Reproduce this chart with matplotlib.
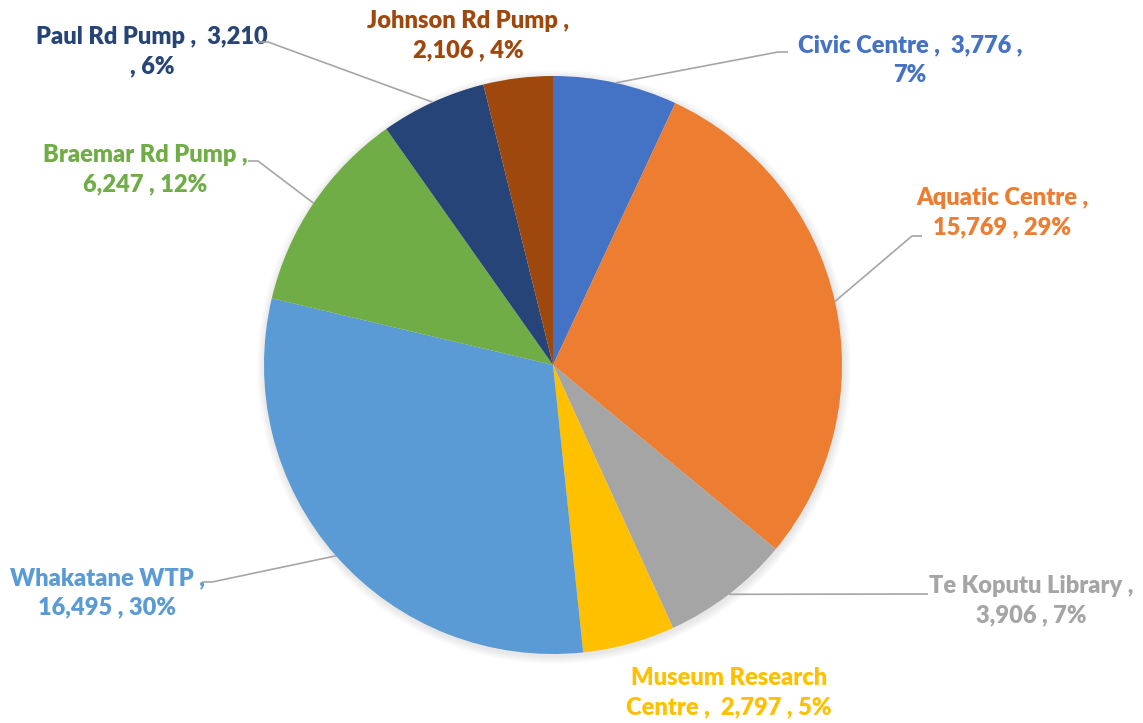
import numpy as np
import matplotlib.pyplot as plt
from matplotlib.patches import Circle

# Site names and energy use, clockwise from 12 o'clock
sites = ["Civic Centre", "Aquatic Centre", "Te Koputu Library",
         "Museum Research Centre", "Whakatane WTP", "Braemar Rd Pump",
         "Paul Rd Pump", "Johnson Rd Pump"]
values = [3776, 15769, 3906, 2797, 16495, 6247, 3210, 2106]
colors = ["#4472C4", "#ED7D31", "#A5A5A5", "#FFC000",
          "#5B9BD5", "#70AD47", "#264478", "#9E480E"]

# how each label wraps (same as the original chart)
label_fmt = ["{n} ,  {v} ,\n{p}%",
             "{n} ,\n{v} , {p}%",
             "{n} ,\n{v} , {p}%",
             "Museum Research\nCentre ,  {v} , {p}%",
             "{n} ,\n{v} , {p}%",
             "{n} ,\n{v} , {p}%",
             "{n} ,  {v}\n, {p}%",
             "{n} ,\n{v} , {p}%"]

W, H = 1143, 723
# label centres and leader-line elbows in pixel coords (y down)
label_pos = [(910, 60), (1002, 213), (1031, 601), (729, 693),
             (107, 593), (145, 170), (152, 52), (468, 36)]
elbows = [(778, 52), (912, 236), (918, 594), None,
          (212, 582), (258, 161), (268, 42), None]

cx, cy, r = 553, H - 365, 289

fig = plt.figure(figsize=(W / 100, H / 100), dpi=100)
ax = fig.add_axes([0, 0, 1, 1])

# soft shadow under the pie
for i in range(8):
    ax.add_patch(Circle((cx + 1, cy - 2), r + 8 - i, color="black",
                        alpha=0.012, lw=0, zorder=0))

wedges, _ = ax.pie(values, colors=colors, startangle=90, counterclock=False,
                   center=(cx, cy), radius=r,
                   wedgeprops=dict(linewidth=0))

total = sum(values)
for i, w in enumerate(wedges):
    pct = int(round(values[i] / total * 100))
    txt = label_fmt[i].format(n=sites[i], v=f"{values[i]:,}", p=pct)
    lx, ly = label_pos[i]
    ax.text(lx, H - ly, txt, color=colors[i], fontsize=17,
            fontweight="heavy", family=["Lato", "DejaVu Sans"],
            ha="center", va="center", linespacing=1.4)
    if elbows[i] is not None:
        mid = np.deg2rad((w.theta1 + w.theta2) / 2)
        sx, sy = cx + r * np.cos(mid), cy + r * np.sin(mid)
        ex, ey = elbows[i]
        ey = H - ey
        hx = ex + 10 if ex > cx else ex - 10
        ax.plot([sx, ex, hx], [sy, ey, ey], color="#A6A6A6", lw=1.2,
                solid_capstyle="butt", zorder=3)

ax.set_xlim(0, W)
ax.set_ylim(0, H)
ax.set_aspect("equal")
ax.axis("off")

fig.savefig("out.png", dpi=100, facecolor="white")
